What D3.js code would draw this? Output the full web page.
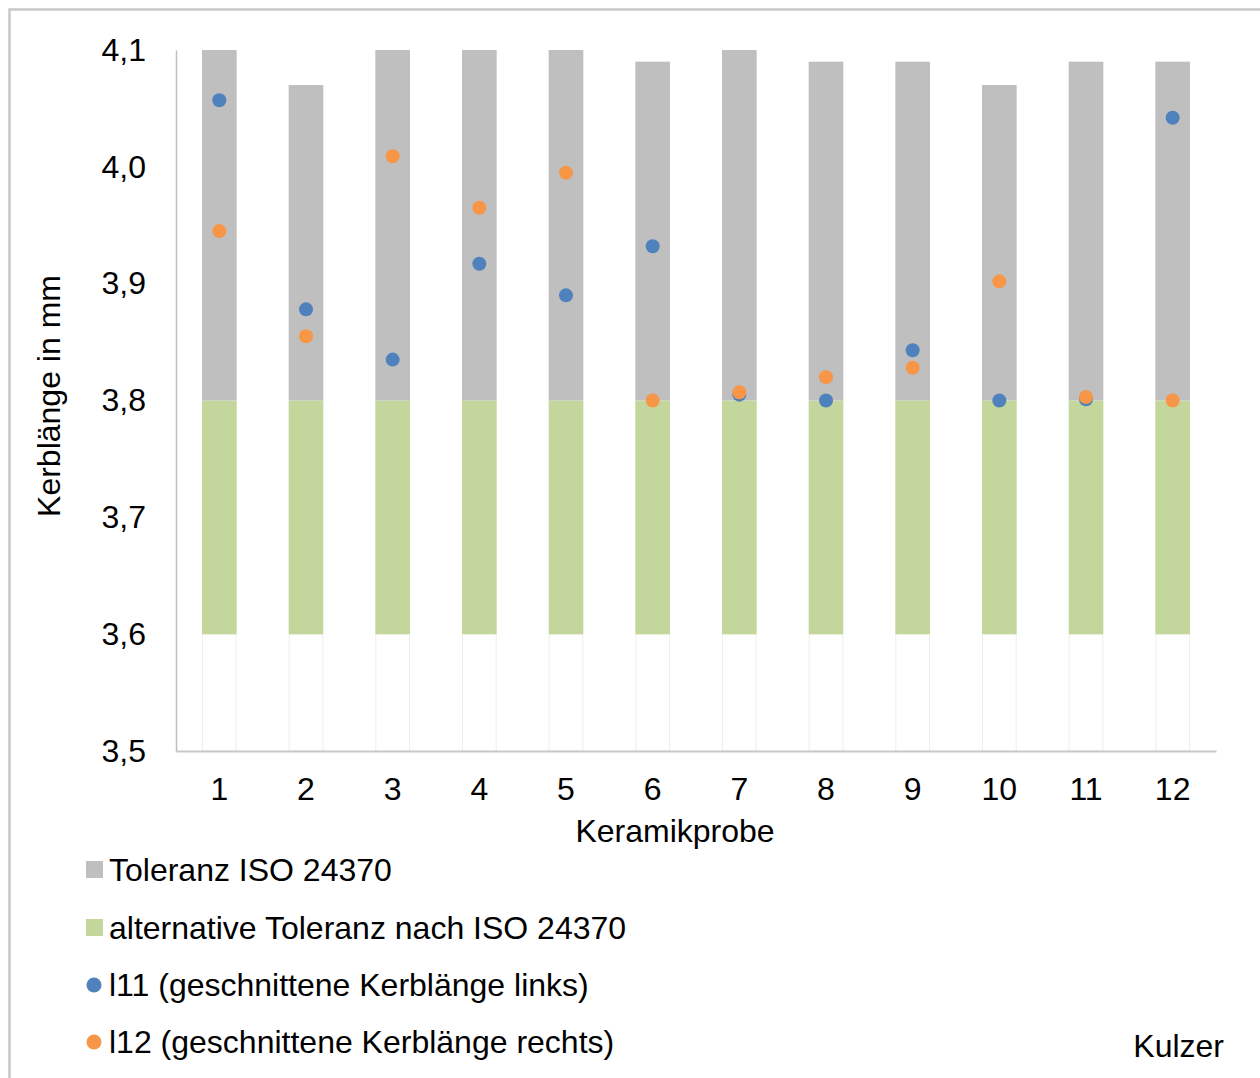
<!DOCTYPE html>
<html>
<head>
<meta charset="utf-8">
<script src="https://cdn.jsdelivr.net/npm/d3@7/dist/d3.min.js"></script>
<style>
  html, body { margin: 0; padding: 0; background: #fff; }
  svg { display: block; font-family: "Liberation Sans", Arial, sans-serif; }
</style>
</head>
<body>
<svg id="chart" width="1260" height="1078"></svg>
<script>
// Sample numbers 1..12
const categories = ["1","2","3","4","5","6","7","8","9","10","11","12"];
// Lower limit of the alternative tolerance band (mm)
const altLower = [3.6,3.6,3.6,3.6,3.6,3.6,3.6,3.6,3.6,3.6,3.6,3.6];
// Upper limit of the alternative tolerance / lower limit of the ISO band (mm)
const altUpper = [3.8,3.8,3.8,3.8,3.8,3.8,3.8,3.8,3.8,3.8,3.8,3.8];
// Upper limit of the ISO 24370 tolerance band (mm)
const isoUpper = [4.10,4.07,4.10,4.10,4.10,4.09,4.10,4.09,4.09,4.07,4.09,4.09];
// l11: cut notch length, left side (mm)
const l11 = [4.057,3.878,3.835,3.917,3.890,3.932,3.805,3.800,3.843,3.800,3.801,4.042];
// l12: cut notch length, right side (mm)
const l12 = [3.945,3.855,4.009,3.965,3.995,3.800,3.807,3.820,3.828,3.902,3.803,3.800];
// Y-axis tick values
const yTicks = [3.5,3.6,3.7,3.8,3.9,4.0,4.1];

const legendItems = [
  { label: "Toleranz ISO 24370", shape: "rect", color: "#BFBFBF" },
  { label: "alternative Toleranz nach ISO 24370", shape: "rect", color: "#C3D69B" },
  { label: "l11 (geschnittene Kerblänge links)", shape: "circle", color: "#4F81BD" },
  { label: "l12 (geschnittene Kerblänge rechts)", shape: "circle", color: "#F79646" }
];

const FONT = 32;
const svg = d3.select("#chart");

// Outer chart frame (open to the right and bottom edge)
svg.append("rect")
  .attr("x", 9.5).attr("y", 9.5)
  .attr("width", 1300).attr("height", 1100)
  .attr("fill", "none")
  .attr("stroke", "#C8C8C8")
  .attr("stroke-width", 2.5);

const x = d3.scaleBand()
  .domain(categories)
  .range([176, 1216])
  .paddingInner(0.6)
  .paddingOuter(0.3);

const y = d3.scaleLinear()
  .domain([3.5, 4.1])
  .range([751, 50]);

const rows = categories.map((c, i) => ({
  c, lo: altLower[i], mid: altUpper[i], hi: isoUpper[i], a: l11[i], b: l12[i]
}));

const bars = svg.append("g");

// Invisible base segment with a faint outline
bars.selectAll("rect.base").data(rows).join("rect")
  .attr("class", "base")
  .attr("x", d => x(d.c) + 0.5)
  .attr("width", x.bandwidth() - 1)
  .attr("y", d => y(d.lo))
  .attr("height", d => y(3.5) - y(d.lo))
  .attr("fill", "#FFFFFF")
  .attr("stroke", "#EEF1E2")
  .attr("stroke-width", 1);

// Alternative tolerance segment
bars.selectAll("rect.alt").data(rows).join("rect")
  .attr("class", "alt")
  .attr("x", d => x(d.c))
  .attr("width", x.bandwidth())
  .attr("y", d => y(d.mid))
  .attr("height", d => y(d.lo) - y(d.mid))
  .attr("fill", "#C3D69B");

// ISO tolerance segment
bars.selectAll("rect.iso").data(rows).join("rect")
  .attr("class", "iso")
  .attr("x", d => x(d.c))
  .attr("width", x.bandwidth())
  .attr("y", d => y(d.hi))
  .attr("height", d => y(d.mid) - y(d.hi))
  .attr("fill", "#BFBFBF");

// Axes
const fmt = d => d3.format(".1f")(d).replace(".", ",");

const yAxis = svg.append("g")
  .attr("transform", "translate(176,0)")
  .call(d3.axisLeft(y).tickValues(yTicks).tickFormat(fmt).tickSize(0).tickPadding(30));
yAxis.select(".domain").attr("stroke", "#BFBFBF").attr("stroke-width", 1.5);
yAxis.selectAll("text").attr("font-size", FONT).attr("fill", "#000")
  .attr("font-family", "Liberation Sans, Arial, sans-serif");

const xAxis = svg.append("g")
  .attr("transform", "translate(0,751)")
  .call(d3.axisBottom(x).tickSize(0).tickPadding(26));
xAxis.select(".domain").attr("stroke", "#C8C8C8").attr("stroke-width", 2);
xAxis.selectAll("text").attr("font-size", FONT).attr("fill", "#000")
  .attr("font-family", "Liberation Sans, Arial, sans-serif");

// Measurement points
const pts = svg.append("g");
pts.selectAll("circle.l11").data(rows).join("circle")
  .attr("class", "l11")
  .attr("cx", d => x(d.c) + x.bandwidth() / 2)
  .attr("cy", d => y(d.a))
  .attr("r", 7)
  .attr("fill", "#4F81BD");
pts.selectAll("circle.l12").data(rows).join("circle")
  .attr("class", "l12")
  .attr("cx", d => x(d.c) + x.bandwidth() / 2)
  .attr("cy", d => y(d.b))
  .attr("r", 7)
  .attr("fill", "#F79646");

// Axis titles
svg.append("text")
  .attr("x", 675).attr("y", 842)
  .attr("text-anchor", "middle")
  .attr("font-size", FONT)
  .text("Keramikprobe");

svg.append("text")
  .attr("transform", "translate(60,396) rotate(-90)")
  .attr("text-anchor", "middle")
  .attr("font-size", FONT)
  .text("Kerblänge in mm");

// Legend
const legend = svg.append("g");
const rowY = [870, 928, 985, 1042];
legendItems.forEach((it, i) => {
  const g = legend.append("g").attr("transform", `translate(0,${rowY[i]})`);
  if (it.shape === "rect") {
    g.append("rect").attr("x", 86).attr("y", -9).attr("width", 17).attr("height", 17).attr("fill", it.color);
  } else {
    g.append("circle").attr("cx", 94).attr("cy", 0).attr("r", 7.5).attr("fill", it.color);
  }
  g.append("text").attr("x", 109).attr("y", 10.5).attr("font-size", FONT).attr("fill", "#000").text(it.label);
});

// Manufacturer label
svg.append("text")
  .attr("x", 1224).attr("y", 1057)
  .attr("text-anchor", "end")
  .attr("font-size", FONT)
  .text("Kulzer");
</script>
</body>
</html>
